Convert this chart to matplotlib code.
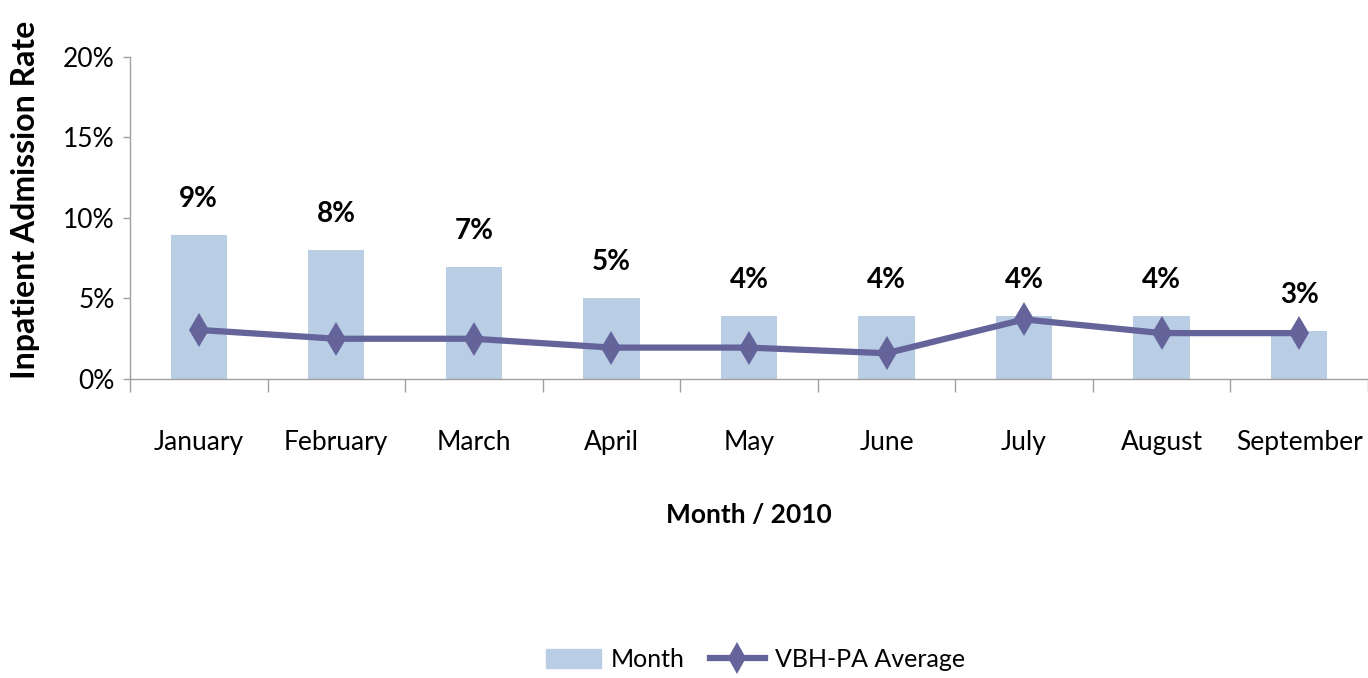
import matplotlib
matplotlib.use("Agg")
import matplotlib.pyplot as plt
from matplotlib.lines import Line2D
from matplotlib.patches import Patch

# data
months = ["January", "February", "March", "April", "May", "June",
          "July", "August", "September"]
month_rate = [8.95, 8.0, 6.95, 5.0, 3.9, 3.9, 3.9, 3.9, 3.0]
vbh_avg = [3.05, 2.5, 2.5, 1.95, 1.95, 1.6, 3.7, 2.85, 2.85]
y_ticks = [0, 5, 10, 15, 20]

plt.rcParams["font.family"] = ["Lato", "DejaVu Sans"]

bar_color = "#B9CDE5"
line_color = "#64649A"
axis_grey = "#A0A0A0"

fig = plt.figure(figsize=(13.68, 6.78), dpi=100)
ax = fig.add_axes([0.095, 0.441, 0.905, 0.475])

x = list(range(len(months)))
ax.bar(x, month_rate, width=0.41, color=bar_color, zorder=2)
ax.plot(x, vbh_avg, color=line_color, lw=4.5, marker="d", markersize=17,
        markeredgewidth=0, zorder=3)

for xi, v in zip(x, month_rate):
    ax.annotate(f"{v:.0f}%", (xi, v), xytext=(0, 26), textcoords="offset points",
                ha="center", va="center", fontsize=20, fontweight="bold")

ax.set_xlim(-0.5, len(months) - 0.5)
ax.set_ylim(0, 20)
ax.set_yticks(y_ticks)
ax.set_yticklabels([f"{t}%" for t in y_ticks], fontsize=19)
ax.set_xticks(x)
ax.set_xticklabels(months, fontsize=19)
ax.set_xticks([i - 0.5 for i in range(len(months) + 1)], minor=True)
ax.tick_params(axis="x", which="major", length=0, pad=37)
ax.tick_params(axis="x", which="minor", length=9, color=axis_grey, width=1)
ax.tick_params(axis="y", length=5, color=axis_grey, width=1, pad=6)

for s in ["top", "right"]:
    ax.spines[s].set_visible(False)
for s in ["left", "bottom"]:
    ax.spines[s].set_color(axis_grey)
    ax.spines[s].set_linewidth(1)

ax.set_xlabel("Month / 2010", fontsize=19, fontweight="bold", labelpad=34)
ax.set_ylabel("Inpatient Admission Rate", fontsize=23, fontweight="bold")
ax.yaxis.set_label_coords(-0.073, 0.555)

handles = [Patch(color=bar_color),
           Line2D([0], [0], color=line_color, lw=4.5, marker="d", markersize=16,
                  markeredgewidth=0)]
fig.legend(handles, ["Month", "VBH-PA Average"], loc="center",
           bbox_to_anchor=(0.552, 0.027), ncol=2, frameon=False, fontsize=18,
           handlelength=2.2, handleheight=0.8, columnspacing=1.0, handletextpad=0.4)

fig.savefig("out.png", dpi=100)
